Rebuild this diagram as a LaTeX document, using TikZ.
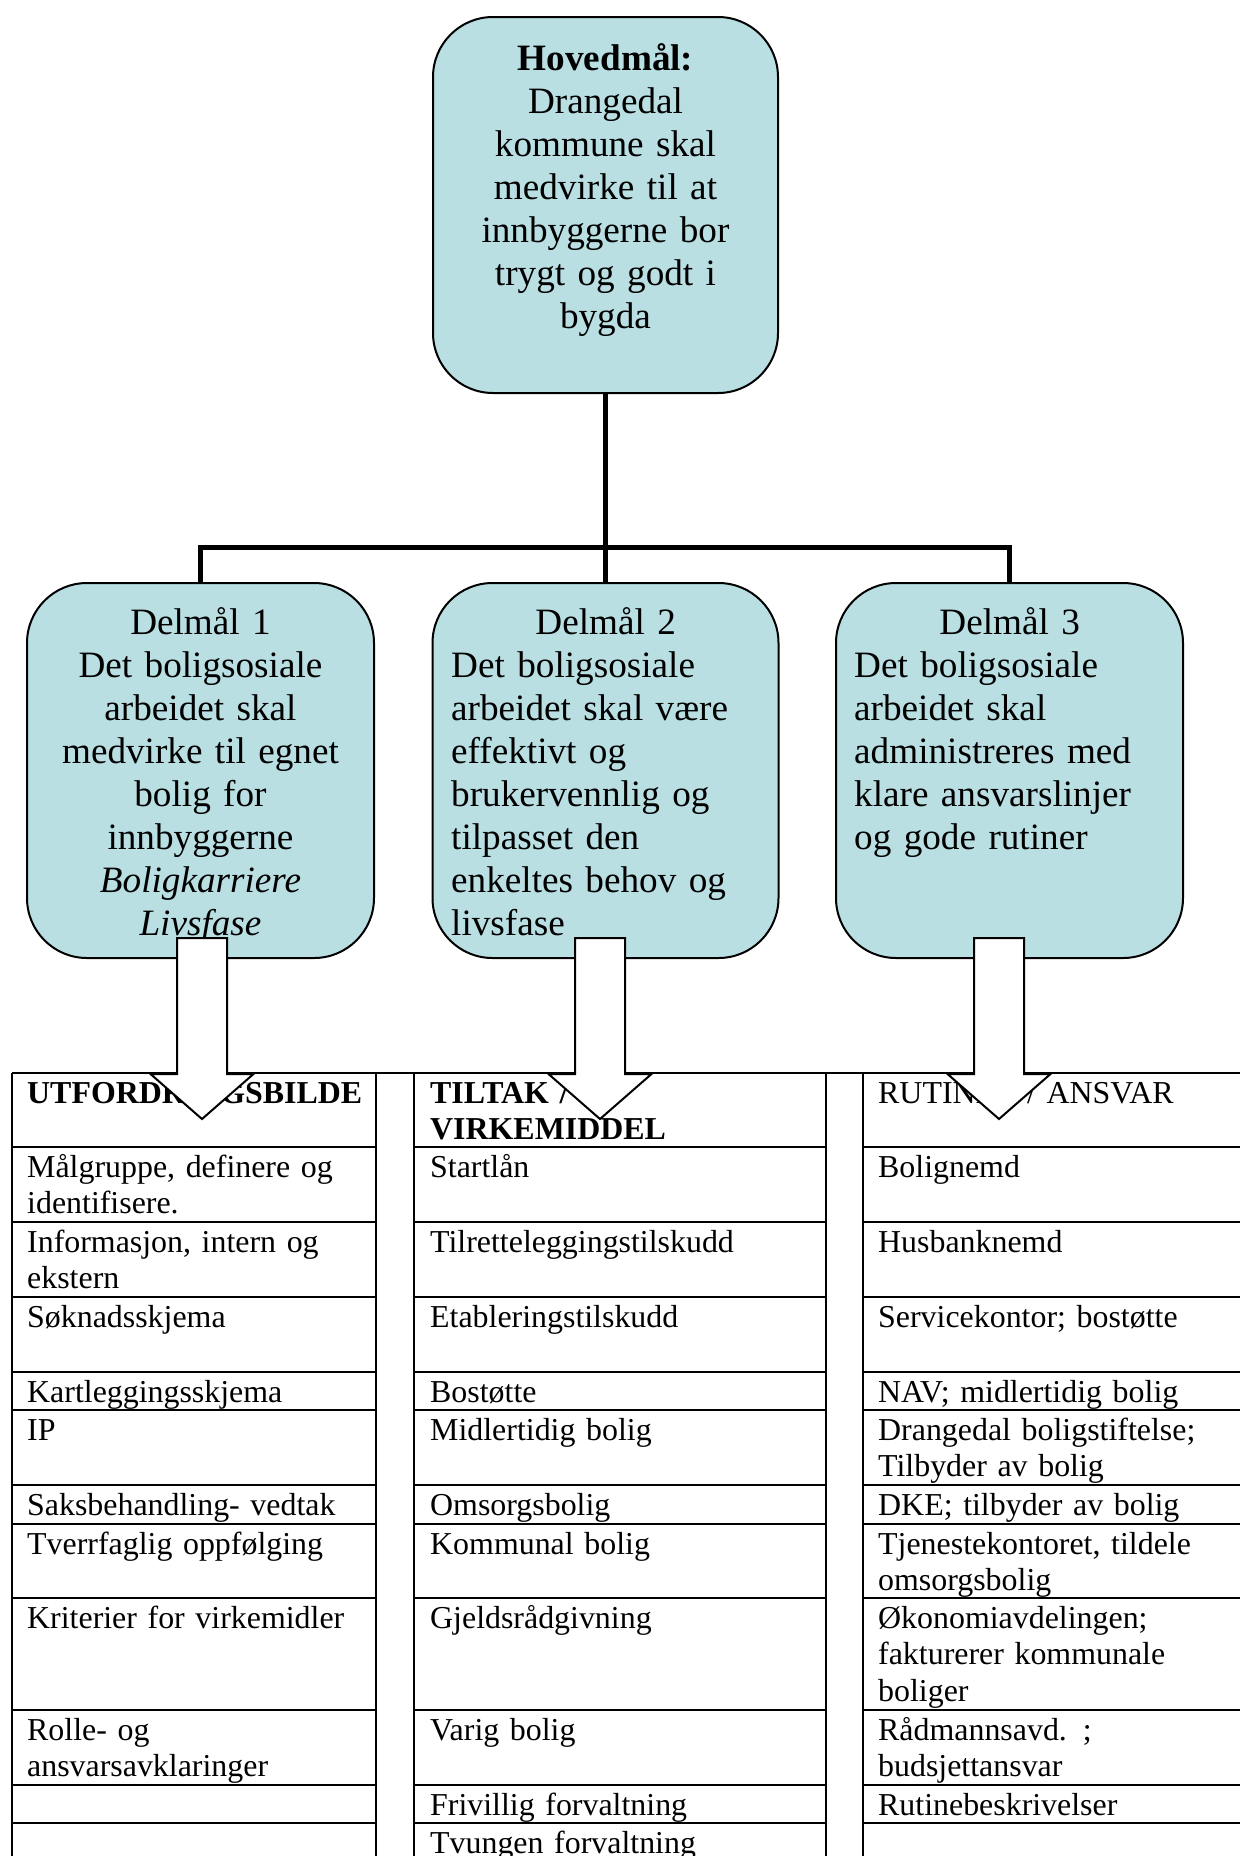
\documentclass[tikz,border=0pt]{standalone}
\usepackage{fontspec}
\setmainfont{Liberation Serif}[WordSpace=0.85]
\definecolor{boxfill}{RGB}{185,223,227}
\newcommand\boxfnt{\fontsize{37.2pt}{43pt}\selectfont}
\newcommand\tabfnt{\fontsize{31.9pt}{36.7pt}\selectfont}
\tikzset{
  goal/.style={draw=black, line width=2pt, fill=boxfill, rounded corners=60pt,
    minimum width=346pt, minimum height=375pt, inner sep=0pt},
  conn/.style={line width=5pt, line join=miter},
  btext/.style={font=\boxfnt, inner sep=0pt, anchor=base, align=center, text width=340pt},
  ltext/.style={font=\boxfnt, inner sep=0pt, anchor=base west, align=left, text width=#1},
  cell/.style={font=\tabfnt, inner sep=0pt, anchor=base west, align=left, text width=380pt},
  grid/.style={line width=2.6pt},
  bigarrow/.style={draw=black, line width=2pt, fill=white, line join=miter},
}
\begin{document}
\begin{tikzpicture}[x=1pt,y=-1pt]
\useasboundingbox (0,0) rectangle (1240,1856);
\fill[white] (0,0) rectangle (1240,1856);

% goal boxes
\node[goal, minimum width=345pt, minimum height=376pt] (main) at (605.5,205) {};
\node[goal, minimum width=347pt] (d1) at (200.5,770.5) {};
\node[goal] (d2) at (605.5,770.5) {};
\node[goal, minimum width=347pt] (d3) at (1009.5,770.5) {};

% connectors
\coordinate (barL) at (200.5,547);
\coordinate (barR) at (1009.5,547);
\draw[conn] (main.south) -- (d2.north);
\draw[conn] (d1.north) -- (barL) -- (barR) -- (d3.north);

% texts in boxes
\node[btext] (maintext) at (605.5,70) {\textbf{Hovedmål:}\\Drangedal\\kommune skal\\medvirke til at\\innbyggerne bor\\trygt og godt i\\bygda};
\node[btext] (d1text) at (200.5,634) {Delmål 1\\Det boligsosiale\\arbeidet skal\\medvirke til egnet\\bolig for\\innbyggerne\\\textit{Boligkarriere}\\\textit{Livsfase}};
\node[ltext=309pt] (d2text) at (451,634) {\makebox[\linewidth][c]{Delmål 2}\\Det boligsosiale\\arbeidet skal være\\effektivt og\\brukervennlig og\\tilpasset den\\enkeltes behov og\\livsfase};
\node[ltext=311pt] (d3text) at (854,634) {\makebox[\linewidth][c]{Delmål 3}\\Det boligsosiale\\arbeidet skal\\administreres med\\klare ansvarslinjer\\og gode rutiner};

% table grid
\draw[grid] (12,1073) -- (1250,1073);
\foreach \x in {12,376,414,826,863} \draw[grid] (\x,1073) -- (\x,1870);
\foreach \y in {1147,1222,1297,1372,1410,1485,1524,1598,1710,1785,1823} {
  \draw[grid] (12,\y) -- (376,\y);
  \draw[grid] (414,\y) -- (826,\y);
  \draw[grid] (863,\y) -- (1250,\y);
}

% column 1
\node[cell] (a0) at (27,1103) {\textbf{UTFORDRINGSBILDE}};
\node[cell] (a1) at (27,1177) {Målgruppe, definere og\\identifisere.};
\node[cell] (a2) at (27,1252) {Informasjon, intern og\\ekstern};
\node[cell] (a3) at (27,1327) {Søknadsskjema};
\node[cell] (a4) at (27,1402) {Kartleggingsskjema};
\node[cell] (a5) at (27,1440) {IP};
\node[cell] (a6) at (27,1515) {Saksbehandling- vedtak};
\node[cell] (a7) at (27,1554) {Tverrfaglig oppfølging};
\node[cell] (a8) at (27,1628) {Kriterier for virkemidler};
\node[cell] (a9) at (27,1740) {Rolle- og\\ansvarsavklaringer};

% column 2
\node[cell] (b0) at (430,1103) {\textbf{TILTAK /}\\\textbf{VIRKEMIDDEL}};
\node[cell] (b1) at (430,1177) {Startlån};
\node[cell] (b2) at (430,1252) {Tilretteleggingstilskudd};
\node[cell] (b3) at (430,1327) {Etableringstilskudd};
\node[cell] (b4) at (430,1402) {Bostøtte};
\node[cell] (b5) at (430,1440) {Midlertidig bolig};
\node[cell] (b6) at (430,1515) {Omsorgsbolig};
\node[cell] (b7) at (430,1554) {Kommunal bolig};
\node[cell] (b8) at (430,1628) {Gjeldsrådgivning};
\node[cell] (b9) at (430,1740) {Varig bolig};
\node[cell] (b10) at (430,1815) {Frivillig forvaltning};
\node[cell] (b11) at (430,1853) {Tvungen forvaltning};

% column 3
\node[cell] (c0) at (878,1103) {RUTINER / ANSVAR};
\node[cell] (c1) at (878,1177) {Bolignemd};
\node[cell] (c2) at (878,1252) {Husbanknemd};
\node[cell] (c3) at (878,1327) {Servicekontor; bostøtte};
\node[cell] (c4) at (878,1402) {NAV; midlertidig bolig};
\node[cell] (c5) at (878,1440) {Drangedal boligstiftelse;\\Tilbyder av bolig};
\node[cell] (c6) at (878,1515) {DKE; tilbyder av bolig};
\node[cell] (c7) at (878,1554) {Tjenestekontoret, tildele\\omsorgsbolig};
\node[cell] (c8) at (878,1628) {Økonomiavdelingen;\\fakturerer kommunale\\boliger};
\node[cell] (c9) at (878,1740) {Rådmannsavd. ;\\budsjettansvar};
\node[cell] (c10) at (878,1815) {Rutinebeskrivelser};

% block arrows
\foreach \c in {202,600,999} {
  \draw[bigarrow] (\c-25,938) -- (\c+25,938) -- (\c+25,1074) -- (\c+51.5,1074)
    -- (\c,1119) -- (\c-51.5,1074) -- (\c-25,1074) -- cycle;
}
\end{tikzpicture}
\end{document}
